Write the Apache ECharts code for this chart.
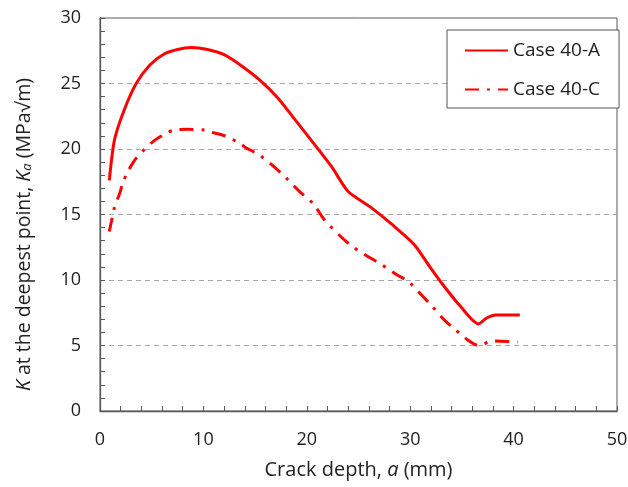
<!DOCTYPE html>
<html><head><meta charset="utf-8">
<script src="https://cdn.jsdelivr.net/npm/echarts@6/dist/echarts.min.js"></script>
<style>html,body{margin:0;padding:0;background:#fff}#c{width:628px;height:487px}</style>
</head><body><div id="c"></div>
<script>
const seriesNames = ['Case 40-A', 'Case 40-C'];
const caseA = [
  [0.9,17.6],[1.4,20.7],[2.35,23.0],[3.5,25.0],[4.8,26.4],[6.2,27.25],[7.5,27.6],[8.8,27.75],
  [10.4,27.6],[12.0,27.2],[13.6,26.4],[15.4,25.3],[17.2,23.9],[18.8,22.3],[20.4,20.7],
  [22.4,18.65],[24.0,16.75],[26.1,15.6],[28.3,14.2],[30.4,12.7],[31.9,11.0],[33.2,9.6],
  [34.9,7.95],[36.6,6.65],[37.4,7.1],[38.3,7.33],[40.6,7.33]
];
const caseC = [
  [0.9,13.7],[1.1,14.45],[1.4,15.55],[1.9,16.6],[2.2,17.4],[2.7,18.3],[3.5,19.3],[5.1,20.55],
  [6.4,21.2],[7.2,21.45],[8.5,21.5],[10.1,21.45],[10.7,21.3],[12.1,21.0],[13.6,20.4],
  [14.1,20.1],[15.3,19.6],[16.6,18.8],[18.0,17.8],[19.3,16.75],[20.6,15.85],[21.7,14.6],
  [23.3,13.3],[24.5,12.5],[25.9,11.8],[27.2,11.2],[28.7,10.4],[29.8,9.9],[31.1,8.85],
  [32.0,8.1],[33.3,6.95],[34.3,6.25],[35.6,5.4],[36.6,5.0],[38.0,5.35],[40.4,5.27]
];
const xTicks = [0, 10, 20, 30, 40, 50];
const yTicks = [0, 5, 10, 15, 20, 25, 30];

const font = 'Open Sans';
const axisColor = '#595959';
const xMin = xTicks[0], xMax = xTicks[xTicks.length-1];
const yMin = yTicks[0], yMax = yTicks[yTicks.length-1];
const chart = echarts.init(document.getElementById('c'));
chart.setOption({
  animation: false,
  grid: {left: 100, right: 11, top: 18, bottom: 76, show: true, borderColor: axisColor, borderWidth: 1,
         outerBoundsMode: 'none', containLabel: false},
  legend: {
    orient: 'vertical', left: 447, top: 30,
    data: seriesNames,
    itemWidth: 43, itemHeight: 14, itemGap: 20,
    padding: [11, 19, 9, 17],
    borderColor: '#555', borderWidth: 1, backgroundColor: '#fff',
    itemStyle: {opacity: 0},
    textStyle: {fontFamily: font, fontSize: 19, color: '#222'}
  },
  xAxis: [{
    type: 'value', min: xMin, max: xMax, interval: 10, position: 'bottom', offset: 0,
    name: 'Crack depth, {i|a} (mm)', nameLocation: 'middle', nameGap: 49,
    nameTextStyle: {fontFamily: font, fontSize: 20, color: '#222',
      rich: {i: {fontFamily: font, fontSize: 20, fontStyle: 'italic', color: '#222'}}},
    axisLine: {show: true, lineStyle: {color: axisColor, width: 1.3}},
    axisTick: {show: false},
    axisLabel: {fontFamily: font, fontSize: 18, color: '#222', margin: 20},
    splitLine: {show: false}
  }, {
    type: 'value', min: xMin, max: xMax, interval: 2, position: 'bottom', offset: 0,
    axisLine: {show: false},
    axisTick: {show: true, inside: true, length: 5, lineStyle: {color: axisColor}},
    axisLabel: {show: false},
    splitLine: {show: false}
  }],
  yAxis: [{
    type: 'value', min: yMin, max: yMax, interval: 5, position: 'left', offset: 0,
    name: '{i|K} at the deepest point, {i|K}{sub|a} (MPa√m)', nameLocation: 'middle', nameGap: 66,
    nameRotate: 90,
    nameTextStyle: {fontFamily: font, fontSize: 19.5, color: '#222', padding: [0, 40, 0, 0],
      rich: {i: {fontFamily: font, fontSize: 19.5, fontStyle: 'italic', color: '#222'},
             sub: {fontFamily: font, fontSize: 13, fontStyle: 'italic', color: '#222', verticalAlign: 'bottom', padding: [7, 0, 0, 0]}}},
    axisLine: {show: true, lineStyle: {color: axisColor, width: 1.3}},
    axisTick: {show: false},
    axisLabel: {fontFamily: font, fontSize: 18, color: '#222', margin: 19},
    splitLine: {show: true, showMinLine: false, showMaxLine: false,
      lineStyle: {color: '#a6a6a6', type: [5, 4], width: 1.2}}
  }, {
    type: 'value', min: yMin, max: yMax, interval: 1, position: 'left', offset: 0,
    axisLine: {show: false},
    axisTick: {show: true, inside: true, length: 5, lineStyle: {color: axisColor}},
    axisLabel: {show: false},
    splitLine: {show: false}
  }],
  series: [
    {name: seriesNames[0], type: 'line', data: caseA, symbol: 'none', smooth: 0.25,
     lineStyle: {color: '#ff0000', width: 3}, itemStyle: {color: '#ff0000'}},
    {name: seriesNames[1], type: 'line', data: caseC, symbol: 'none', smooth: 0.25,
     lineStyle: {color: '#ff0000', width: 3, type: [14, 8, 3, 8]}, itemStyle: {color: '#ff0000'}}
  ]
});
</script></body></html>
